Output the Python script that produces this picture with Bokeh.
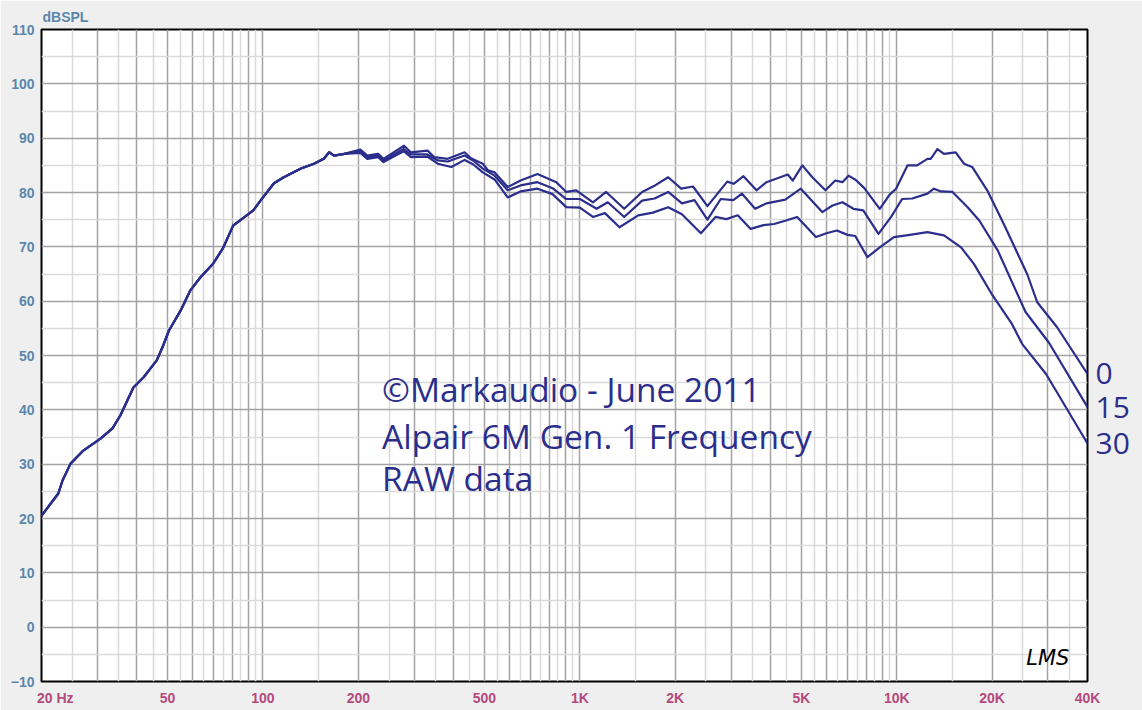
from bokeh.plotting import figure
from bokeh.models import FixedTicker, Label, LinearAxis, Title
from bokeh.embed import file_html
from bokeh.resources import INLINE

# ---- data -------------------------------------------------------------------
low_freq = [20, 22.6, 23.3, 24.7, 27.1, 30.7, 33.5, 35.5, 39.0, 42.0, 46.2, 48.4, 50.5,
            55.0, 59.0, 63.5, 69.6, 74.7, 80.5, 93.2, 98.2, 108.3, 116.3, 131.8, 144.8,
            155.6, 161.7, 167.7, 180.5]
low_db = [20.5, 24.6, 27.0, 30.1, 32.5, 34.7, 36.6, 39.0, 44.1, 46.0, 49.1, 51.8, 54.6,
          58.3, 62.0, 64.4, 66.9, 69.7, 73.9, 76.7, 78.5, 81.7, 82.8, 84.4, 85.3,
          86.2, 87.4, 86.8, 87.1]

freq_0 = [203, 213.4, 231, 240, 278.7, 292.9, 330.7, 347.3, 383, 432.7,
          453.3, 494, 512.7, 538.5, 592, 650, 735, 843, 906, 974,
          1100, 1210, 1380, 1572, 1727, 1900, 2088, 2276, 2527, 2918,
          3058, 3284, 3610, 3880, 4530, 4697, 5037, 5415, 5958, 6397,
          6740, 7045, 7430, 7900, 8840, 9500, 9953, 10820, 11590, 12500,
          12800, 13440, 14100, 15350, 16300, 17300, 19300, 21770, 25800, 27760,
          32070, 40000]
db_0 = [87.9, 86.8, 87.1, 86.2, 88.6, 87.4, 87.7, 86.5, 86.2, 87.4,
        86.3, 85.3, 84.1, 83.7, 81.0, 82.2, 83.4, 81.9, 80.1, 80.4,
        78.2, 80.1, 77.0, 80.1, 81.3, 82.8, 80.7, 81.1, 77.5, 82.0,
        81.6, 83.0, 80.4, 81.9, 83.3, 82.2, 85.0, 82.8, 80.4, 82.2,
        81.9, 83.1, 82.3, 80.8, 77.0, 79.6, 80.7, 85.0, 85.0, 86.2,
        86.2, 88.0, 87.1, 87.4, 85.3, 84.7, 80.4, 74.2, 65.0, 59.8,
        55.2, 46.6]

freq_15 = [203, 213.4, 231, 240, 278, 293, 330, 356, 383, 432.7,
           460, 494, 538, 592, 650, 735, 820, 906, 1000, 1130,
           1225, 1380, 1572, 1720, 1900, 2100, 2300, 2527, 2784, 3050,
           3245, 3574, 3880, 4450, 4980, 5820, 6270, 6740, 7300, 7840,
           8760, 9600, 10400, 11200, 12500, 13100, 13800, 15000, 16740, 18240,
           20850, 25500, 30200, 40000]
db_15 = [87.6, 86.5, 86.8, 85.9, 88.0, 87.0, 87.0, 85.9, 85.7, 86.8,
         85.9, 84.4, 83.1, 80.4, 81.3, 81.9, 80.8, 78.8, 78.8, 77.0,
         78.2, 75.5, 78.5, 78.9, 80.1, 78.0, 78.6, 75.0, 78.8, 78.6,
         79.8, 77.0, 78.0, 78.7, 80.7, 76.4, 77.6, 78.2, 77.0, 76.7,
         72.4, 75.5, 78.8, 78.9, 79.8, 80.7, 80.2, 80.1, 77.3, 74.8,
         69.3, 58.0, 52.4, 40.5]

freq_30 = [203, 213.4, 231, 240, 278, 293, 330, 356, 393, 433,
           460, 494, 538, 592, 650, 735, 820, 906, 1000, 1100,
           1200, 1334, 1528, 1700, 1900, 2100, 2410, 2680, 2900, 3150,
           3460, 3800, 4100, 4450, 4850, 5560, 6000, 6470, 7000, 7400,
           8080, 8840, 9800, 11000, 12500, 14100, 15960, 17500, 19900, 23100,
           24900, 29600, 40000]
db_30 = [87.3, 86.2, 86.5, 85.6, 87.6, 86.5, 86.6, 85.3, 84.7, 86.0,
         85.2, 83.7, 82.4, 79.1, 80.2, 80.7, 79.7, 77.3, 77.2, 75.5,
         76.2, 73.6, 75.8, 76.3, 77.3, 76.0, 72.5, 75.5, 75.1, 75.8,
         73.3, 74.0, 74.2, 74.8, 75.5, 71.8, 72.5, 73.0, 72.2, 72.0,
         68.1, 69.9, 71.8, 72.2, 72.7, 72.1, 69.9, 66.9, 61.4, 55.8,
         52.1, 46.6, 33.8]

series_names = ["0", "15", "30"]

# tick labels; "20 Hz" is left-aligned on the 20 Hz line, so its tick sits a bit right of 20
x_tick_values = [22.1, 50, 100, 200, 500, 1000, 2000, 5000, 10000, 20000, 40000]
x_tick_labels = ["20 Hz", "50", "100", "200", "500", "1K", "2K", "5K", "10K", "20K", "40K"]
y_tick_values = list(range(-10, 111, 10))

annotation_lines = ["\u00a9Markaudio - June 2011", "Alpair 6M Gen. 1 Frequency", "RAW data"]

# ---- figure -----------------------------------------------------------------
NAVY = "#2c2e8c"
BLUE_LBL = "#5b87ab"
RED_LBL = "#b4497c"
TITLE_BLUE = "#5a87a0"
p = figure(width=1142, height=710, x_axis_type="log",
           x_range=(20, 40000), y_range=(-10, 110),
           output_backend="svg", toolbar_location=None,
           min_border_left=41, min_border_right=55,
           min_border_top=29, min_border_bottom=29)
p.title.visible = False
p.background_fill_color = "white"
p.border_fill_color = "#efefef"
p.outline_line_color = "black"
p.outline_line_width = 2

# grid
dark_x = [k * 10 ** n for n in range(1, 5) for k in range(1, 10) if 20 <= k * 10 ** n <= 40000]
light_x = [(k + 0.5) * 10 ** n for n in range(1, 5) for k in range(1, 10)
           if 20 <= (k + 0.5) * 10 ** n <= 40000]
p.xgrid.ticker = FixedTicker(ticks=dark_x, minor_ticks=light_x)
p.ygrid.ticker = FixedTicker(ticks=y_tick_values, minor_ticks=[v + 5 for v in y_tick_values[:-1]])
for g in (p.xgrid, p.ygrid):
    g.grid_line_color = "#a3a3a3"
    g.grid_line_width = 1.5
    g.minor_grid_line_color = "#dadada"
    g.minor_grid_line_width = 1.5

# axes
p.xaxis.ticker = FixedTicker(ticks=x_tick_values)
p.xaxis.major_label_overrides = {v: s for v, s in zip(x_tick_values, x_tick_labels)}
p.yaxis.ticker = FixedTicker(ticks=y_tick_values)
for ax in (p.xaxis, p.yaxis):
    ax.axis_line_color = None
    ax.major_tick_line_color = None
    ax.minor_tick_line_color = None
    ax.major_label_text_font = "Liberation Sans"
    ax.major_label_text_font_size = "14px"
    ax.major_label_text_font_style = "bold"
p.xaxis.major_label_text_color = RED_LBL
p.xaxis.major_label_standoff = 2
p.yaxis.major_label_text_color = BLUE_LBL
p.yaxis.major_label_standoff = 1

# curves
curves = [(low_freq + freq_0, low_db + db_0),
          (low_freq + freq_15, low_db + db_15),
          (low_freq + freq_30, low_db + db_30)]
for xs, ys in curves:
    p.line(xs, ys, line_color=NAVY, line_width=2.2, line_join="round")

# curve end labels, as a right axis whose ticks sit at each curve's last value
end_ticks = [ys[-1] for xs, ys in curves]
right_axis = LinearAxis(ticker=FixedTicker(ticks=end_ticks),
                        major_label_overrides={v: s for v, s in zip(end_ticks, series_names)},
                        axis_line_color=None, major_tick_line_color=None,
                        minor_tick_line_color=None, major_label_standoff=2,
                        major_label_text_font="Open Sans",
                        major_label_text_font_size="30px",
                        major_label_text_color=NAVY)
p.add_layout(right_axis, "right")

# y-axis caption above the frame
p.add_layout(Title(text="dBSPL", align="left", offset=1, standoff=10,
                   text_font="Liberation Sans", text_font_style="bold",
                   text_font_size="14px", text_color=BLUE_LBL), "above")

# annotation text block
for txt, yv in zip(annotation_lines, [41.84, 33.25, 25.46]):
    p.add_layout(Label(x=237.6, y=yv, text=txt, text_baseline="alphabetic",
                       text_align="left", text_font="Open Sans", y_offset=11,
                       text_font_size="33.5px", text_color=NAVY))

# LMS logo
p.add_layout(Label(x=25640, y=-5.6, text="LMS", text_baseline="middle",
                   text_align="left", text_font="DejaVu Sans",
                   text_font_style="italic", text_font_size="21px", text_color="black"))

# chart title: in the reference it sits above the top edge and is cut off
p.add_layout(Label(x=907, y=110, text="SPL vs Freq", y_offset=37,
                   text_baseline="alphabetic", text_align="center",
                   text_font="Liberation Sans", text_font_style="bold",
                   text_font_size="40px", text_color=TITLE_BLUE))

open("out.html", "w").write(file_html(p, INLINE))
